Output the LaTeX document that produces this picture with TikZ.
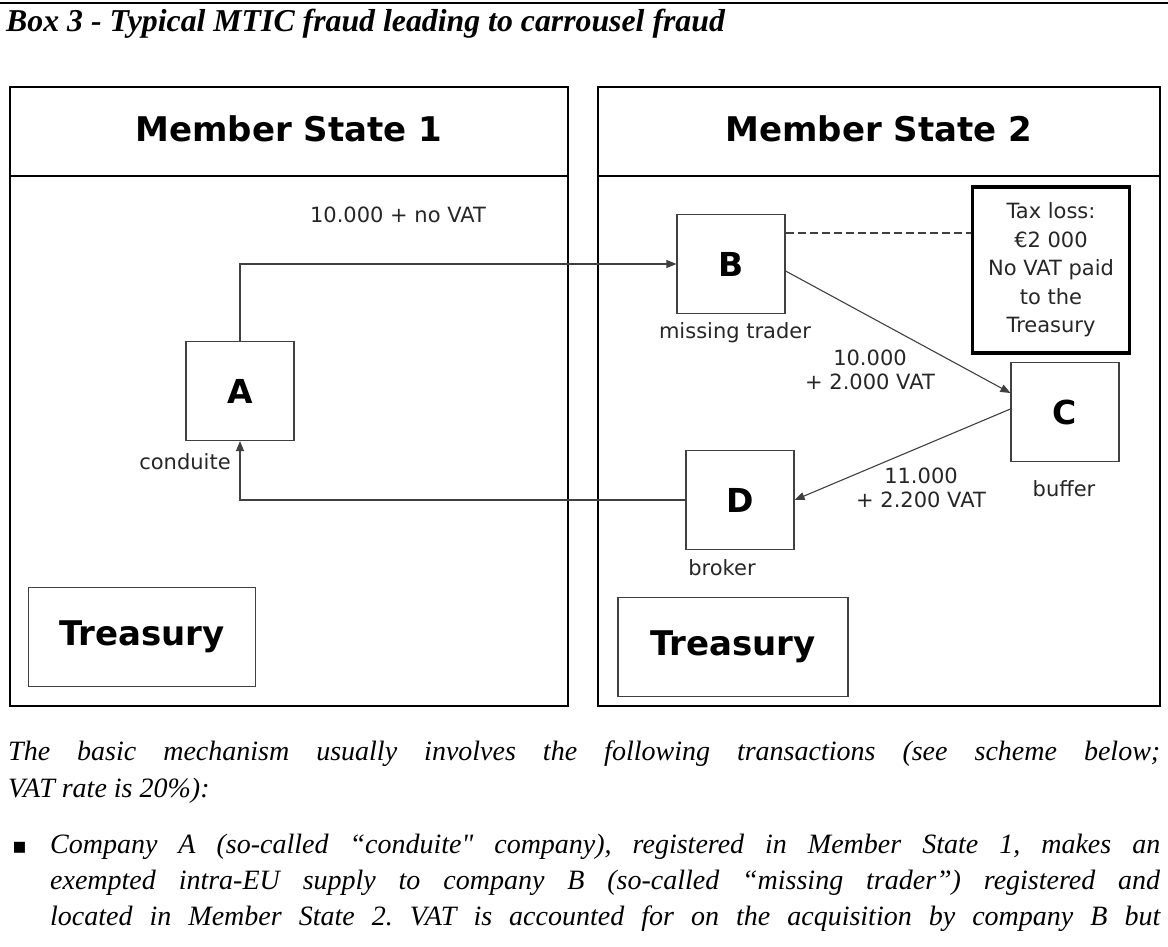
\documentclass[tikz,border=0pt]{standalone}
\usepackage{fontspec}
\setmainfont{Liberation Serif}
\newfontfamily\diagfont{DejaVu Sans}
\usetikzlibrary{arrows.meta}
\frenchspacing

\tikzset{
  panel/.style={draw, line width=1.4pt},
  head/.style={font=\diagfont\bfseries\fontsize{34}{38}\selectfont},
  firm/.style={draw=black!75, line width=1.2pt, minimum width=108pt, minimum height=99pt,
    font=\diagfont\bfseries\fontsize{33}{36}\selectfont},
  treasurybox/.style={draw=black!75, line width=1.2pt, font=\diagfont\bfseries\fontsize{34}{38}\selectfont},
  lbl/.style={font=\diagfont\fontsize{21}{24}\selectfont, text=black!85},
  flow/.style={draw=black!75, line width=1.1pt, -{Triangle[length=10pt,width=8pt]}},
  bodytext/.style={anchor=base west, inner sep=0pt, font=\itshape\fontsize{28}{34}\selectfont},
}

\begin{document}
\begin{tikzpicture}[x=1pt,y=-1pt]
\useasboundingbox (0,0) rectangle (1168,947);

% title
\draw [line width=2.5pt] (0,3) -- (1168,3);
\node [anchor=base west, inner sep=0pt, font=\bfseries\itshape\fontsize{31.8}{34}\selectfont] (title) at (6,32)
  {Box 3 - Typical MTIC fraud leading to carrousel fraud};

% the two member states
\draw [panel] (10,87) rectangle (568,706);
\draw [panel] (10,176) -- (568,176);
\node [head] (ms1) at (289,129) {Member State 1};

\draw [panel] (598,87) rectangle (1160,706);
\draw [panel] (598,176) -- (1160,176);
\node [head] (ms2) at (879,129) {Member State 2};

% companies
\node [firm] (A) at (240,391) {A};
\node [lbl] (lA) at (185,462) {conduite};

\node [firm] (B) at (731,264) {B};
\node [lbl] (lB) at (735,333) {missing trader};

\node [firm] (C) at (1065,412) {C};
\node [lbl] (lC) at (1064,489) {buffer};

\node [firm] (D) at (740,500) {D};
\node [lbl] (lD) at (722,568) {broker};

\node [lbl, draw=black, line width=3.5pt, align=center, minimum width=157pt, minimum height=166pt,
  font=\diagfont\fontsize{21}{28.5}\selectfont] (tax) at (1051,270)
  {Tax loss:\\€2 000\\No VAT paid\\to the\\Treasury};

\node [treasurybox, minimum width=227pt, minimum height=99pt] (T1) at (142,637) {Treasury};
\node [treasurybox, minimum width=230pt, minimum height=99pt] (T2) at (733,647) {Treasury};

% flows of goods
\draw [flow] (A.north) |- (B.west);
\node [lbl] (f1) at (398,215) {10.000 + no VAT};

\draw [flow] ([yshift=-7pt]B.east) -- ([yshift=19pt]C.west);
\node [lbl, align=center] (f2) at (870,370) {10.000\\+ 2.000 VAT};

\draw [flow] ([yshift=3pt]C.west) -- (D.east);
\node [lbl, align=center] (f3) at (921,488) {11.000\\+ 2.200 VAT};

\draw [flow] (D.west) -| (A.south);

\coordinate (loss) at ([yshift=31pt]B.east);
\draw [dashed, draw=black!75, line width=1.1pt, dash pattern=on 8pt off 4pt] (loss) -- (loss -| tax.west);

% text below the box
\node [bodytext] (p1) at (8,760) {\makebox[1152pt][s]{The basic mechanism usually involves the following transactions (see scheme below;}};
\node [bodytext] (p2) at (8,797) {VAT rate is 20\%):};
\node [bodytext, font=\diagfont\fontsize{22}{26}\selectfont] (bul) at (12,853) {▪};
\node [bodytext] (p3) at (50,853) {\makebox[1110pt][s]{Company A (so-called “conduite\textquotedbl{} company), registered in Member State 1, makes an}};
\node [bodytext] (p4) at (50,889) {\makebox[1110pt][s]{exempted intra-EU supply to company B (so-called “missing trader”) registered and}};
\node [bodytext] (p5) at (50,925) {\makebox[1110pt][s]{located in Member State 2. VAT is accounted for on the acquisition by company B but}};

\end{tikzpicture}
\end{document}
